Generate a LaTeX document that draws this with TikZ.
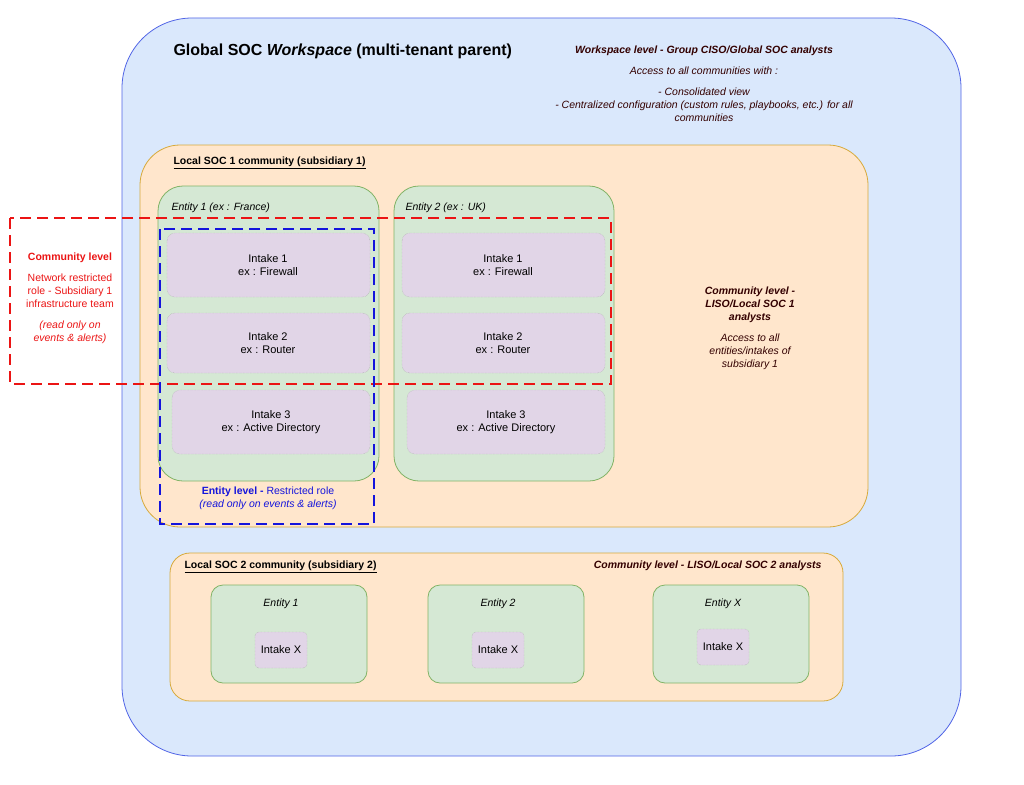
\documentclass[tikz,border=0pt]{standalone}
\usepackage{fontspec}
\setmainfont{Liberation Sans}
\usepackage{tikz}
\usetikzlibrary{calc}
\usetikzlibrary{positioning}
\definecolor{skyfill}{RGB}{218, 232, 252}
\definecolor{skyline}{RGB}{80, 100, 230}
\definecolor{peachfill}{RGB}{255, 230, 204}
\definecolor{peachline}{RGB}{215, 170, 60}
\definecolor{mintfill}{RGB}{213, 232, 212}
\definecolor{mintline}{RGB}{130, 179, 102}
\definecolor{lilacfill}{RGB}{225, 213, 231}
\definecolor{darkred}{RGB}{51, 0, 0}
\definecolor{alertred}{RGB}{235, 20, 20}
\definecolor{roleblue}{RGB}{20, 20, 220}

\tikzset{
  box/.style={rounded corners=#1, line width=0.8pt},
  intake/.style={draw=gray!70, densely dotted, fill=lilacfill, rounded corners=8pt},
  txt/.style={font=\fontsize{11}{13.5}\selectfont, align=center},
  zone/.style={dashed, dash pattern=on 11pt off 6pt, line width=2.5pt}
}

\begin{document}
\begin{tikzpicture}[x=1pt, y=-1pt]
            \useasboundingbox (0,0) rectangle (1024,784);
            % workspace
            \filldraw[box=70pt, draw=skyline, fill=skyfill]     (122,18) rectangle (961,756);
            \node[txt, font=\fontsize{16}{19}\selectfont\bfseries, anchor=west] (wstitle) at (170,51)
                 {Global SOC \textit{Workspace} (multi-tenant parent)};
            \node[txt, color=darkred, font=\fontsize{10.5}{13}\selectfont\itshape] (wsinfo) at (704,84)
                 {\textbf{Workspace level - Group CISO/Global SOC analysts}\\[8pt]Access to all communities with :\\[8pt]- Consolidated view\\- Centralized configuration (custom rules, playbooks, etc.) for all\\communities};
            % community 1
            \filldraw[box=40pt, draw=peachline, fill=peachfill] (140,145) rectangle (868,527);
            \node[txt, anchor=west, font=\fontsize{10.5}{13}\selectfont\bfseries] (soc1) at (170,163) {\underline{Local SOC 1 community (subsidiary 1)}};
            \node[txt, color=darkred, font=\fontsize{10.5}{13}\selectfont\itshape] (soc1info) at (750,328)
                 {\textbf{Community level -}\\\textbf{LISO/Local SOC 1}\\\textbf{analysts}\\[8pt]Access to all\\entities/intakes of\\subsidiary 1};
            \filldraw[box=25pt, draw=mintline, fill=mintfill] (158,186) rectangle (379,481);
            \filldraw[box=25pt, draw=mintline, fill=mintfill] (394,186) rectangle (614,481);
            \node[txt, anchor=west, font=\fontsize{10.5}{13}\selectfont\itshape] (ent1) at (168,208) {Entity 1 (ex : France)};
            \node[txt, anchor=west, font=\fontsize{10.5}{13}\selectfont\itshape] (ent2) at (402,208) {Entity 2 (ex : UK)};
            % intakes
            \filldraw[intake] (167,233) rectangle (370,297); \node[txt] (i11) at (268,265) {Intake 1\\ex : Firewall};
            \filldraw[intake] (167,313) rectangle (370,373); \node[txt] (i12) at (268,343) {Intake 2\\ex : Router};
            \filldraw[intake] (172,390) rectangle (370,454); \node[txt] (i13) at (271,422) {Intake 3\\ex : Active Directory};
            \filldraw[intake] (402,233) rectangle (605,297); \node[txt] (i21) at (503,265) {Intake 1\\ex : Firewall};
            \filldraw[intake] (402,313) rectangle (605,373); \node[txt] (i22) at (503,343) {Intake 2\\ex : Router};
            \filldraw[intake] (407,390) rectangle (605,454); \node[txt] (i23) at (506,422) {Intake 3\\ex : Active Directory};
            % access zones
            \draw[zone, alertred]  (10,218) rectangle (611,384);
            \draw[zone, roleblue]  (160,229) rectangle (374,524);
            \node[txt, color=alertred, font=\fontsize{10.5}{13}\selectfont] (comlvl) at (70,298)
                 {\textbf{Community level}\\[8pt]Network restricted\\role - Subsidiary 1\\infrastructure team\\[8pt]\textit{(read only on}\\\textit{events \& alerts)}};
            \node[txt, color=roleblue, font=\fontsize{10.5}{13}\selectfont] (entlvl) at (268,498)
                 {\textbf{Entity level -} Restricted role\\\textit{(read only on events \& alerts)}};
            % community 2
            \filldraw[box=20pt, draw=peachline, fill=peachfill] (170,553) rectangle (843,701);
            \node[txt, anchor=west, font=\fontsize{10.5}{13}\selectfont\bfseries] (soc2) at (181,567) {\underline{Local SOC 2 community (subsidiary 2)}};
            \node[txt, anchor=east, color=darkred, font=\fontsize{10.5}{13}\selectfont\bfseries\itshape] (soc2info) at (825,566)
                 {Community level - LISO/Local SOC 2 analysts};
            \foreach \x/\lab/\iy/\id in {211/Entity 1/650/a, 428/Entity 2/650/b, 653/Entity X/647/x} {
              \filldraw[box=12pt, draw=mintline, fill=mintfill] (\x,585) rectangle ++(156,98);
              \node[txt, font=\fontsize{10.5}{13}\selectfont\itshape] (ent-\id) at (\x+70,604) {\lab};
              \filldraw[intake, rounded corners=4pt] (\x+44,\iy-18) rectangle ++(52,36);
              \node[txt] (intake-\id) at (\x+70,\iy) {Intake X};
            }
        \end{tikzpicture}
\end{document}
